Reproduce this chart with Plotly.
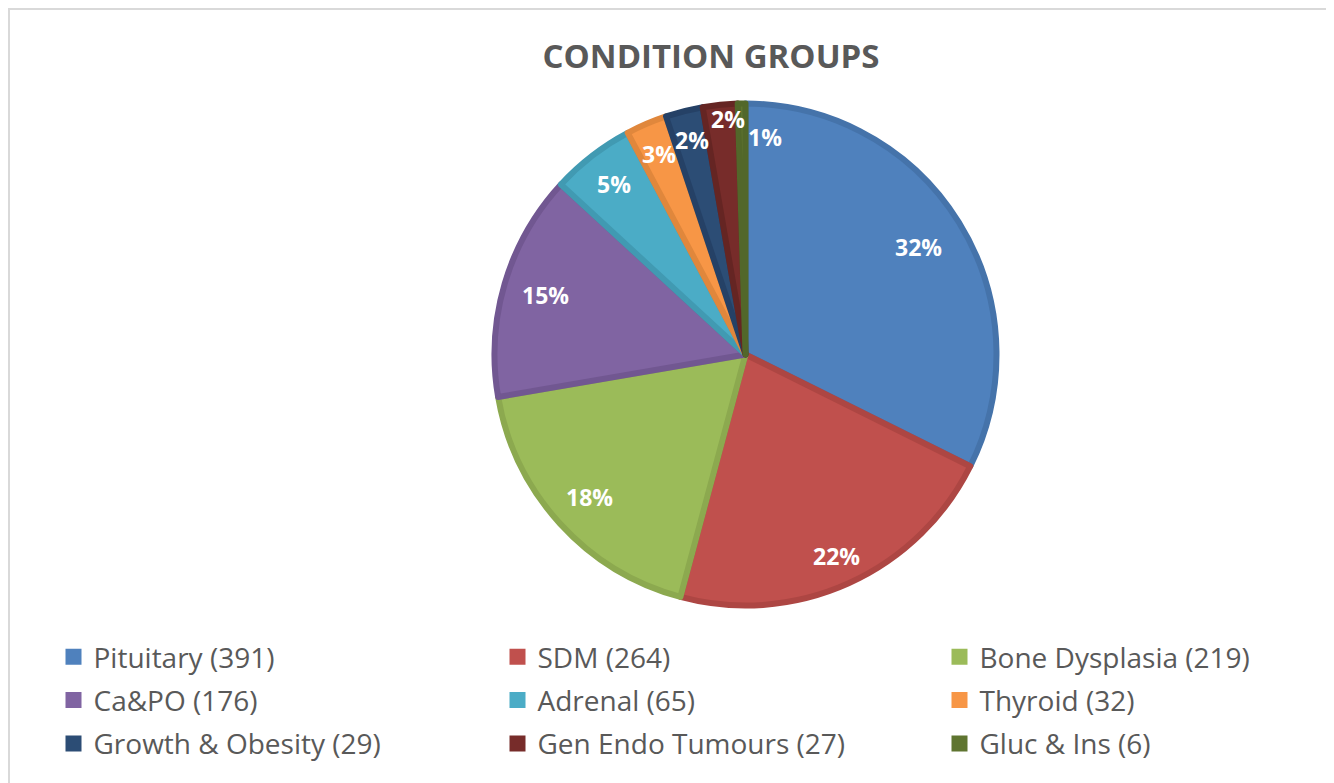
import math
import plotly.graph_objects as go

categories = ["Pituitary", "SDM", "Bone Dysplasia", "Ca&PO", "Adrenal", "Thyroid",
              "Growth & Obesity", "Gen Endo Tumours", "Gluc & Ins"]
counts = [391, 264, 219, 176, 65, 32, 29, 27, 6]
pct_labels = ["32%", "22%", "18%", "15%", "5%", "3%", "2%", "2%", "1%"]

fill_colors = ["#4F81BD", "#C0504D", "#9BBB59", "#8064A2", "#4BACC6", "#F79646",
               "#2C4D75", "#772C2A", "#5F7530"]
edge_colors = ["#4573AA", "#AD4643", "#8CA94F", "#715791", "#419AB2", "#E0873C",
               "#254166", "#652523", "#52672A"]

# label placement style (fraction of radius, angular nudge in degrees)
label_rfrac = [0.81, 0.88, 0.84, 0.83, 0.86, 0.87, 0.88, 0.94, 0.87]
label_nudge = [0, 0, 0, 0, 0, 0, 0, 1.5, 6]

legend_names = [f"{c} ({n})" for c, n in zip(categories, counts)]

W, H = 1326, 775          # page body has an 8px margin
cx, cy, R = 737.5, 346.5, 251

fig = go.Figure(go.Pie(
    labels=legend_names,
    values=counts,
    textinfo="none",
    sort=False,
    direction="clockwise",
    rotation=0,
    marker=dict(colors=fill_colors, line=dict(color=edge_colors, width=6)),
    domain=dict(x=[(cx - R) / W, (cx + R) / W], y=[1 - (cy + R) / H, 1 - (cy - R) / H]),
    hoverinfo="label+percent",
    showlegend=False,
))

# legend entries laid out in three columns (Excel-style), row-major order
legend_ids = ["legend", "legend2", "legend3"]
for i, (name, col) in enumerate(zip(legend_names, fill_colors)):
    fig.add_trace(go.Scatter(
        x=[None], y=[None], mode="markers", name=name,
        marker=dict(symbol="square", size=16, color=col),
        legend=legend_ids[i % 3], legendgroup=f"g{i}", showlegend=True, hoverinfo="skip",
    ))

total = sum(counts)
annotations = []
cum = 0
for v, lab, rf, nd in zip(counts, pct_labels, label_rfrac, label_nudge):
    mid = (cum + v / 2) / total * 360 + nd
    cum += v
    a = math.radians(mid)
    px = cx + rf * R * math.sin(a)
    py = cy - rf * R * math.cos(a)
    annotations.append(dict(
        x=px / W, y=1 - py / H, xref="paper", yref="paper", text=f"<b>{lab}</b>",
        showarrow=False, xanchor="center", yanchor="middle",
        font=dict(family="Open Sans", size=23, color="white")))

legend_style = dict(orientation="v", xanchor="left", yanchor="top", y=1 - 624 / H,
                    font=dict(family="Open Sans", size=28, color="#595959"),
                    itemclick=False, itemdoubleclick=False, bgcolor="rgba(0,0,0,0)",
                    tracegroupgap=4, itemsizing="trace")

fig.update_layout(
    width=W, height=H,
    margin=dict(l=0, r=0, t=0, b=0),
    paper_bgcolor="white",
    plot_bgcolor="white",
    xaxis=dict(visible=False),
    yaxis=dict(visible=False),
    title=dict(text="<b>CONDITION GROUPS</b>", x=703 / W, xanchor="center", y=1 - 48 / H, yanchor="middle",
               font=dict(family="Open Sans", size=33, color="#595959")),
    legend=dict(x=45.5 / W, **legend_style),
    legend2=dict(x=489.5 / W, **legend_style),
    legend3=dict(x=931.5 / W, **legend_style),
    annotations=annotations,
    shapes=[dict(type="rect", xref="paper", yref="paper", x0=1 / W, x1=1 - 2 / W, y0=-0.01, y1=1 - 1 / H,
                 line=dict(color="#D9D9D9", width=2), fillcolor="rgba(0,0,0,0)", layer="below")],
)

fig.write_html("out.html")
